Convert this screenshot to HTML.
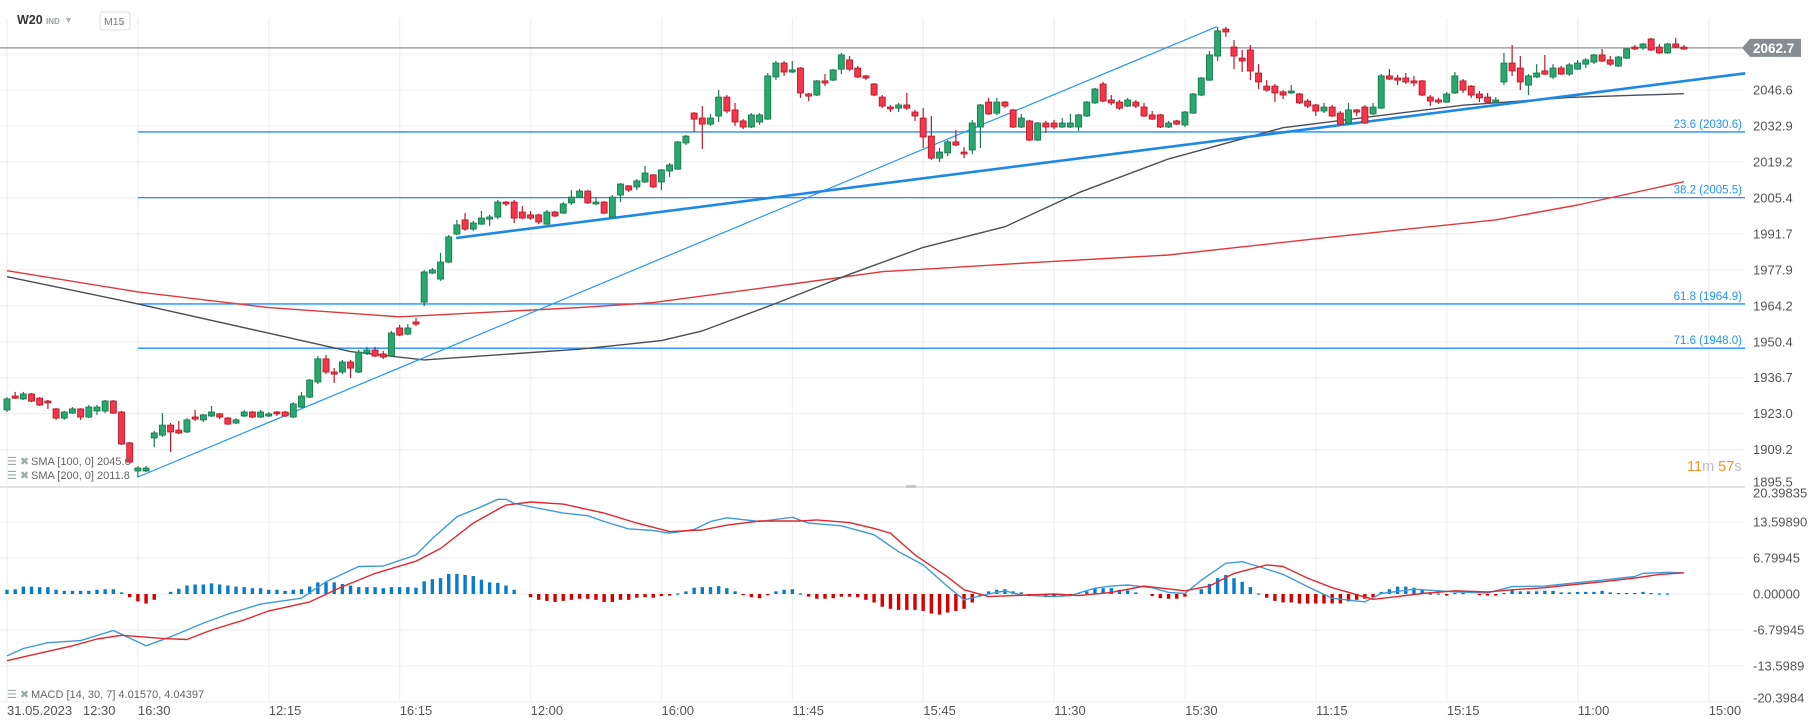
<!DOCTYPE html>
<html><head><meta charset="utf-8">
<style>
html,body{margin:0;padding:0;background:#fff;}
body{width:1813px;height:728px;overflow:hidden;font-family:"Liberation Sans",sans-serif;}
svg{display:block}
</style></head>
<body>
<svg id="chart" width="1813" height="728" viewBox="0 0 1813 728" xmlns="http://www.w3.org/2000/svg" font-family="Liberation Sans, sans-serif">
  <g id="grid"></g>
  <g id="header">
    <text x="17" y="24" font-size="12.5" font-weight="bold" fill="#333">W20</text>
    <text x="46" y="24" font-size="8" font-weight="bold" fill="#9aa0a6">IND</text>
    <text x="64" y="23" font-size="9" fill="#b0b4b8">▼</text>
    <rect x="100" y="12" width="30" height="18" rx="3" fill="#fff" stroke="#dcdfe2"/>
    <text x="104" y="25" font-size="10.5" fill="#777">M15</text>
    <text x="121" y="26" font-size="7" fill="#aaa">▾</text>
  </g>
  <g id="fibs"></g>
  <g id="smas"></g>
  <g id="trend"></g>
  <g id="candles"></g>
  <g id="macd"></g>
  <g id="axes"></g>
  <g id="legend">
    <text x="7" y="465" font-size="11" fill="#9aa">☰ ✖</text>
    <text x="31" y="465" font-size="11" fill="#666">SMA [100,  0] 2045.0</text>
    <text x="7" y="479" font-size="11" fill="#9aa">☰ ✖</text>
    <text x="31" y="479" font-size="11" fill="#666">SMA [200,  0] 2011.8</text>
    <text x="7" y="698" font-size="11" fill="#9aa">☰ ✖</text>
    <text x="31" y="698" font-size="11" fill="#666">MACD [14,  30,  7] 4.01570,  4.04397</text>
  </g>
  <g>
    <text x="1687" y="471" font-size="14.5"><tspan fill="#f7931e">11</tspan><tspan fill="#b8bcc0">m </tspan><tspan fill="#f7931e">57</tspan><tspan fill="#b8bcc0">s</tspan></text>
  </g>
  <rect x="906" y="485" width="10" height="3" fill="#c8c8c8"/>
</svg>
<script>
// ---- data ----
const opens = [1924.4,1929.7,1928.6,1930.5,1928.9,1927.8,1924.8,1921.3,1923.2,1924.8,
1921.7,1924.0,1924.0,1927.8,1923.6,1911.8,1901.1,1901.1,1913.7,1914.8,
1918.6,1916.7,1916.0,1921.7,1920.6,1922.1,1922.9,1921.3,1919.4,1922.1,
1923.6,1921.7,1922.1,1923.6,1923.6,1921.7,1925.5,1929.3,1935.1,1943.9,
1938.9,1938.9,1942.7,1938.9,1946.2,1947.3,1945.8,1945.0,1955.7,1953.4,
1958.0,1965.6,1976.7,1974.4,1980.9,1991.6,1997.0,1993.5,1995.4,1997.3,
1998.1,2003.8,2003.8,2000.0,1998.9,1998.9,1995.4,2000.0,1999.6,2003.5,
2005.7,2008.0,2003.1,2003.8,1998.1,2006.5,2010.0,2009.6,2011.5,2014.2,
2011.5,2015.7,2016.4,2026.4,2037.8,2035.9,2033.6,2036.7,2043.9,2039.0,
2034.8,2032.5,2034.4,2035.5,2051.6,2056.9,2053.5,2055.0,2045.1,2044.7,
2050.1,2050.4,2054.6,2058.1,2055.0,2052.0,2048.9,2043.9,2040.1,2039.7,
2040.9,2038.2,2035.9,2029.0,2020.6,2022.6,2026.8,2022.9,2023.7,2032.5,
2042.0,2037.8,2042.0,2039.0,2032.5,2034.8,2027.5,2034.0,2034.0,2032.5,
2032.5,2032.5,2036.7,2041.7,2048.9,2042.8,2042.0,2040.5,2042.0,2040.1,
2037.1,2037.1,2032.5,2034.8,2033.3,2037.8,2044.7,2050.4,2059.6,2069.9,
2063.0,2058.8,2061.9,2053.1,2048.1,2048.1,2045.9,2045.5,2045.1,2042.4,
2040.9,2038.6,2040.1,2037.8,2034.0,2039.0,2040.1,2037.5,2039.7,2052.0,
2051.2,2051.2,2050.1,2050.1,2043.9,2042.8,2042.0,2045.5,2050.1,2048.1,
2045.1,2043.9,2042.0,2049.7,2056.9,2055.0,2048.5,2051.6,2053.9,2051.6,
2055.0,2052.7,2054.6,2056.5,2057.3,2060.0,2058.1,2055.8,2058.8,2063.0,
2062.7,2066.1,2063.0,2060.8,2064.2,2063.0];
const highs = [1929.3,1931.3,1931.3,1930.9,1929.3,1928.2,1925.1,1924.0,1925.5,1925.1,
1926.3,1926.3,1928.2,1928.2,1924.0,1912.2,1903.0,1903.0,1916.4,1923.2,
1919.4,1920.2,1921.3,1924.4,1922.9,1925.9,1923.2,1921.7,1921.3,1924.4,
1924.0,1924.4,1923.6,1924.0,1924.0,1927.4,1931.3,1936.2,1945.0,1945.4,
1940.4,1943.5,1943.5,1947.3,1948.5,1948.5,1946.9,1954.6,1956.9,1957.2,
1959.5,1977.9,1978.6,1984.4,1991.2,1997.0,1999.6,1996.6,2000.4,1998.9,
2004.6,2004.2,2004.6,2002.3,2000.4,1999.3,2000.8,2000.4,2003.8,2008.4,
2008.8,2008.4,2005.7,2004.2,2006.5,2011.1,2010.3,2012.6,2017.6,2014.5,
2016.4,2018.7,2027.1,2029.4,2038.2,2040.5,2037.5,2046.6,2044.7,2041.7,
2035.5,2037.8,2037.8,2053.1,2057.7,2057.7,2057.7,2055.4,2045.5,2050.4,
2052.7,2054.6,2060.8,2059.6,2055.8,2052.4,2049.3,2044.7,2040.9,2041.7,
2045.5,2039.0,2039.7,2036.7,2024.5,2027.5,2031.3,2024.8,2035.2,2041.3,
2043.6,2043.6,2042.4,2039.4,2037.5,2035.2,2034.4,2034.8,2035.2,2035.9,
2037.5,2037.5,2042.4,2047.4,2049.7,2044.7,2042.8,2043.6,2042.8,2041.7,
2038.6,2037.5,2034.8,2035.2,2038.6,2045.5,2051.6,2061.5,2070.7,2070.7,
2065.7,2061.9,2063.8,2056.5,2050.4,2048.9,2046.6,2048.5,2045.5,2043.2,
2041.3,2041.7,2040.9,2038.6,2041.7,2039.4,2040.9,2041.7,2052.7,2054.6,
2052.4,2053.1,2052.0,2050.4,2044.7,2043.6,2045.9,2053.5,2050.8,2048.5,
2046.2,2045.5,2043.9,2060.8,2063.8,2059.6,2052.7,2056.5,2060.0,2056.5,
2055.8,2056.9,2058.1,2058.8,2060.4,2062.3,2059.6,2059.6,2062.7,2063.8,
2064.6,2066.5,2064.2,2064.6,2066.5,2063.8];
const lows = [1923.6,1928.6,1928.2,1927.4,1925.9,1924.8,1920.6,1920.6,1922.9,1920.6,
1921.3,1922.5,1923.2,1922.9,1911.0,1903.8,1898.8,1900.7,1910.2,1914.1,
1908.3,1915.2,1915.6,1920.2,1919.8,1921.7,1920.9,1918.7,1919.0,1921.7,
1921.3,1921.3,1921.7,1922.1,1921.7,1921.3,1925.1,1928.9,1934.3,1938.1,
1934.7,1938.1,1936.6,1938.5,1945.4,1944.6,1943.9,1944.6,1952.6,1953.0,
1956.5,1964.1,1976.3,1973.7,1980.5,1991.2,1992.8,1992.8,1995.1,1994.7,
1997.3,2002.3,1995.8,1997.3,1997.0,1995.4,1995.1,1998.1,1999.3,2002.7,
2005.4,2003.1,2002.7,1999.3,1997.7,2003.8,2007.7,2008.4,2011.1,2009.2,
2008.4,2013.4,2016.1,2025.6,2030.6,2024.1,2032.9,2034.4,2037.8,2032.9,
2031.7,2032.1,2033.3,2035.2,2050.4,2052.0,2053.1,2043.6,2042.4,2044.3,
2048.1,2050.1,2052.7,2053.9,2051.2,2050.4,2044.3,2039.7,2038.2,2038.2,
2039.0,2034.8,2024.5,2019.9,2019.1,2021.4,2025.2,2020.6,2022.2,2024.5,
2037.1,2037.1,2039.7,2032.1,2032.1,2027.1,2027.1,2030.2,2031.7,2032.1,
2032.1,2031.0,2036.3,2041.3,2042.0,2040.9,2039.0,2040.1,2039.7,2036.3,
2035.2,2032.1,2032.1,2033.3,2032.5,2037.5,2044.3,2050.1,2057.7,2066.9,
2054.6,2053.5,2050.4,2047.0,2045.9,2042.0,2043.2,2045.1,2041.3,2039.7,
2036.7,2037.8,2036.3,2033.3,2033.6,2036.7,2033.6,2037.1,2039.4,2050.4,
2048.5,2048.9,2048.1,2044.3,2040.5,2041.3,2041.7,2045.1,2045.5,2043.6,
2042.0,2041.7,2041.7,2048.5,2052.0,2046.6,2044.7,2051.2,2052.4,2050.8,
2052.4,2052.0,2054.3,2055.0,2056.5,2057.3,2055.8,2055.4,2058.5,2061.9,
2061.9,2061.5,2060.4,2060.4,2062.7,2061.9];
const closes = [1928.6,1928.9,1930.5,1927.8,1926.3,1927.1,1921.3,1923.6,1924.8,1921.7,
1925.5,1925.5,1927.8,1923.2,1911.4,1904.5,1902.2,1902.2,1915.6,1918.6,
1916.0,1915.6,1920.6,1920.9,1922.5,1923.6,1921.7,1919.0,1920.6,1923.6,
1921.7,1923.6,1922.9,1922.9,1922.1,1926.7,1929.7,1935.8,1943.9,1938.9,
1938.1,1942.7,1940.4,1946.5,1947.3,1945.0,1944.6,1953.8,1953.0,1955.7,
1957.2,1977.1,1977.9,1980.9,1990.5,1995.1,1993.5,1995.8,1997.7,1998.1,
2003.8,2003.1,1997.7,1997.7,1997.7,1996.2,2000.0,1998.5,2003.1,2005.7,
2008.0,2003.5,2003.8,1999.6,2005.7,2010.7,2008.4,2011.9,2014.9,2009.6,
2016.1,2018.0,2026.8,2029.0,2035.5,2033.6,2035.9,2043.9,2038.6,2034.4,
2032.5,2037.1,2037.1,2052.0,2056.9,2053.5,2054.3,2045.5,2044.3,2050.1,
2049.3,2054.3,2060.0,2054.6,2051.6,2051.2,2044.7,2040.5,2039.4,2040.9,
2039.7,2036.7,2028.7,2020.6,2022.9,2026.8,2025.6,2022.2,2034.0,2040.9,
2037.5,2042.0,2040.5,2032.5,2035.9,2027.5,2034.0,2032.5,2032.5,2034.0,
2034.0,2037.1,2042.0,2047.0,2042.4,2041.7,2039.7,2042.8,2040.5,2036.7,
2035.5,2032.5,2034.0,2033.6,2038.2,2045.1,2051.2,2060.0,2069.2,2068.8,
2059.6,2057.7,2053.9,2049.7,2046.6,2045.5,2044.7,2046.2,2041.7,2040.5,
2038.6,2040.1,2036.7,2033.6,2039.0,2038.2,2034.0,2040.1,2052.0,2050.8,
2050.4,2049.7,2049.3,2044.7,2042.4,2042.0,2045.1,2052.0,2046.6,2044.7,
2043.6,2042.0,2042.8,2056.9,2053.9,2049.7,2052.0,2053.1,2052.7,2055.0,
2052.7,2056.2,2056.9,2058.1,2060.0,2057.7,2056.5,2059.2,2062.3,2062.3,
2064.2,2061.9,2060.8,2064.2,2063.0,2062.3];
const sma100Idx = [0,16,32,42,51,70,80,85,94,103,112,122,131,142,156,178,191,205];
const sma100Val = [1975.3,1964.9,1953.7,1946.7,1943.5,1947.6,1950.9,1954.6,1965.1,1976.2,1986.5,1994.4,2007.4,2020.3,2032.2,2040.8,2043.8,2045.2];
const sma200Idx = [0,16,32,48,70,79,96,107,126,142,162,182,192,205];
const sma200Val = [1977.6,1969.5,1963.5,1960.0,1963.5,1965.4,1972.5,1977.2,1980.8,1983.6,1990.5,1997.0,2002.7,2011.6];
const macdIdx = [0,2,5,9,13,14,17,20,24,27,31,36,39,43,46,50,52,55,58,60,61,62,65,68,71,73,76,79,81,84,86,88,92,96,98,102,106,109,112,115,117,120,122,124,128,130,133,135,137,140,142,144,146,149,151,153,156,159,162,166,168,172,175,177,181,184,188,191,195,199,200,203,205];
const macdVal = [-11.7,-10.3,-9.2,-8.8,-6.9,-7.6,-9.8,-8.1,-5.5,-3.8,-1.9,-0.8,2.3,5.2,5.3,7.4,10.5,14.6,16.5,17.9,17.9,17.1,16.2,15.3,14.8,13.7,12.3,12.0,11.5,12.2,13.7,14.4,13.7,14.5,13.4,12.9,11.2,8.0,5.5,1.4,-1.1,0.0,0.6,-0.2,-0.5,-0.3,1.1,1.5,1.7,1.2,0.3,0.1,2.6,5.8,6.1,5.2,3.7,1.4,-0.8,-1.5,0.1,0.9,0.6,0.4,0.2,1.4,1.5,2.0,2.6,3.3,3.9,4.1,4.0];
const signalIdx = [0,4,8,11,14,19,22,25,29,32,37,41,45,50,53,57,60,61,64,68,73,77,81,85,88,92,97,99,103,106,108,111,115,117,120,128,131,135,139,144,147,150,154,156,159,162,167,170,173,177,181,184,188,191,195,199,202,205];
const signalVal = [-12.6,-11.2,-9.8,-8.5,-7.8,-8.4,-8.6,-6.8,-4.9,-3.2,-1.5,1.4,3.9,6.2,8.6,13.4,16.0,16.8,17.4,17.0,15.3,13.4,11.8,12.1,13.0,13.8,13.8,14.0,13.5,12.4,11.5,7.4,3.2,0.8,-0.5,0.0,-0.3,0.3,1.5,0.6,1.5,3.9,5.5,5.2,3.0,1.2,-1.0,-0.5,0.1,0.6,0.4,0.8,1.2,1.7,2.3,3.0,3.7,4.0];
const histVal = [0.8,0.9,1.4,1.4,1.3,1.3,0.8,0.6,0.6,0.6, 0.6,0.8,0.9,0.9,0.3,-0.6,-1.4,-1.8,-1.1,0,
 0.4,1.0,1.6,1.8,1.8,2.0,1.8,1.6,1.4,1.3, 1.1,1.1,0.8,0.8,0.6,0.8,0.9,1.4,2.2,2.2,
 2.2,1.9,1.6,1.3,1.3,1.3,1.1,1.3,1.3,1.3, 1.2,2.4,2.8,3.0,3.8,3.8,3.6,3.4,2.7,2.2,
 2.1,1.6,0.8,0,-0.6,-1.1,-1.3,-1.5,-1.3,-1.1, -0.9,-0.9,-1.1,-1.5,-1.5,-1.1,-1.1,-0.7,-0.6,-0.7,
 -0.4,-0.3,0.1,0.5,1.2,1.3,1.3,1.5,1.1,0.5, -0.1,-0.6,-0.8,-0.1,0.5,0.8,0.9,0.1,-0.5,-0.9,
 -0.9,-0.8,-0.5,-0.5,-0.6,-1.1,-1.6,-2.4,-2.8,-3.0, -3.0,-3.0,-3.2,-3.7,-3.9,-3.5,-3.2,-2.8,-1.6,-0.3,
 0.5,0.8,0.9,0.5,0.3,-0.4,-0.4,-0.6,-0.4,-0.4, -0.1,0.2,0.5,1.1,1.1,1.1,0.8,0.7,0.3,0,
 -0.4,-0.8,-0.9,-0.9,-0.5,0,0.9,1.9,3.0,3.6, 3.0,2.3,1.3,0.1,-0.7,-1.3,-1.6,-1.6,-1.8,-1.8,
 -1.8,-1.8,-1.8,-1.8,-1.4,-1.1,-0.9,-0.6,0.4,0.9, 1.4,1.4,1.2,0.8,0.1,0.1,-0.3,0.2,0.2,0,
 -0.1,-0.3,-0.3,0.2,0.8,0.5,0.5,0.5,0.6,0.6, 0.3,0.3,0.4,0.4,0.4,0.6,0.3,0.2,0.2,0.2,
 0.4,0.2,0.1,0.1,0,0];
const priceTicks = [2046.6,2032.9,2019.2,2005.4,1991.7,1977.9,1964.2,1950.4,1936.7,1923.0,1909.2,1895.5];
const macdTicks = [20.39835,13.5989,6.79945,0,-6.79945,-13.5989,-20.3984];
const macdTickLabels = ['20.39835','13.59890','6.79945','0.00000','-6.79945','-13.5989','-20.3984'];
const timeLabels = ['31.05.2023   12:30','16:30','12:15','16:15','12:00','16:00','11:45','15:45','11:30','15:30','11:15','15:15','11:00','15:00'];
const fibLevels = [2030.6,2005.5,1964.9,1948.0];
const fibNames = ['23.6 (2030.6)','38.2 (2005.5)','61.8 (1964.9)','71.6 (1948.0)'];
const lastPrice = 2062.7;
const thinTrendIdx = [16,147.9];
const thinTrendVal = [1898.8,2070.8];
const thickTrendIdx = [54.9,212.5];
const thickTrendVal = [1990.1,2053.0];

// ---- axis functions ----
const NS='http://www.w3.org/2000/svg';
const PLOT_R=1745;
function xOf(i){return 7+8.18*i;}
function yP(p){return (2081-p)/0.382;}
function yM(v){return 594-v*5.29;}
function mk(tag,attrs,parent){const e=document.createElementNS(NS,tag);for(const k in attrs)e.setAttribute(k,attrs[k]);parent.appendChild(e);return e;}

const grid=document.getElementById('grid');
// horizontal main grid
[2060.3].concat(priceTicks.slice(0,-1)).forEach(p=>{
  const l=mk('line',{x1:0,x2:PLOT_R,y1:yP(p),y2:yP(p),stroke:'#f0f0f0','stroke-width':1.2},grid);
  
  
});
macdTicks.slice(1).forEach(v=>{
  const l=mk('line',{x1:0,x2:PLOT_R,y1:yM(v),y2:yM(v),stroke:'#f0f0f0','stroke-width':1.2},grid);
  
  
});
timeLabels.forEach((t,k)=>{
  const x=7+130.9*k;
  const l=mk('line',{x1:x,x2:x,y1:18,y2:702,stroke:'#f0f0f0','stroke-width':1.2},grid);
  
  
});
// pane separator
const sep=mk('line',{x1:0,x2:PLOT_R,y1:487,y2:487,stroke:'#dcdcdc','stroke-width':1.5},grid);



// fib levels
const fibs=document.getElementById('fibs');
fibLevels.forEach((p,k)=>{
  const l=mk('line',{x1:xOf(16),x2:PLOT_R,y1:yP(p),y2:yP(p),stroke:'#1e8fff','stroke-width':1.3},fibs);
  
  
  const t=mk('text',{x:1742,y:yP(p)-4,'text-anchor':'end','font-size':11.5,fill:'#2196f3'},fibs);
  t.textContent=fibNames[k];
  
  
});

// current price line
const cp=mk('line',{x1:0,x2:PLOT_R,y1:yP(lastPrice),y2:yP(lastPrice),stroke:'#8a9297','stroke-width':1.3},fibs);



// SMAs
const smas=document.getElementById('smas');
function poly(idx,val,yf,color,w,parent){
  return mk('polyline',{points:idx.map((i,k)=>xOf(i).toFixed(1)+','+yf(val[k]).toFixed(1)).join(' '),fill:'none',stroke:color,'stroke-width':w,'stroke-linejoin':'round'},parent);
}
const s200=poly(sma200Idx,sma200Val,yP,'#e0383c',1.4,smas);


const s100=poly(sma100Idx,sma100Val,yP,'#4a4f55',1.4,smas);



// trend lines
const trend=document.getElementById('trend');
const t1=poly(thinTrendIdx,thinTrendVal,yP,'#2196f3',1.2,trend);


const t2=poly(thickTrendIdx,thickTrendVal,yP,'#1e88e5',2.6,trend);



// candles
const cg=document.getElementById('candles');
opens.forEach((o,i)=>{
  const c=closes[i],up=c>=o;
  const x=xOf(i);
  const fill=up?'#26a86f':'#f5364a', stroke=up?'#1b7a4f':'#b81a2b';
  const w=mk('line',{x1:x,x2:x,y1:yP(highs[i]),y2:yP(lows[i]),stroke:stroke,'stroke-width':1.2},cg);
  
  
  const top=yP(Math.max(o,c)),bot=yP(Math.min(o,c));
  const b=mk('rect',{x:x-3,y:top,width:6,height:Math.max(bot-top,1.2),fill:fill,stroke:stroke,'stroke-width':0.9},cg);
  
  
});

// MACD
const mg=document.getElementById('macd');
histVal.forEach((v,i)=>{
  if(v===0) return;
  const y0=yM(0),y1=yM(v);
  const r=mk('rect',{x:xOf(i)-1.7,y:Math.min(y0,y1),width:3.4,height:Math.max(Math.abs(y1-y0),1.2),fill:v>0?'#0a7cc7':'#d50000'},mg);
  
  
});
const ml=poly(macdIdx,macdVal,yM,'#3d9bdc',1.4,mg);


const sl=poly(signalIdx,signalVal,yM,'#e0282e',1.4,mg);



// axes
const ax=document.getElementById('axes');
priceTicks.forEach(p=>{
  const yc=Math.min(yP(p),482);
  const t=mk('text',{x:1753,y:yc+4.5,'font-size':13,fill:'#555'},ax);
  t.textContent=p.toFixed(1);
  
  
});
macdTicks.forEach((v,k)=>{
  const yc=Math.max(493,Math.min(yM(v),698));
  const t=mk('text',{x:1753,y:yc+4.5,'font-size':13,fill:'#555'},ax);
  t.textContent=macdTickLabels[k];
  
  
});
timeLabels.forEach((s,k)=>{
  const t=mk('text',{x:7+130.9*k,y:715,'font-size':13,fill:'#555','xml:space':'preserve'},ax);
  t.setAttribute('style','white-space:pre');
  t.textContent=s;
  
  
});
// last price tag
const yl=yP(lastPrice);
const tag=mk('path',{d:`M1742 ${yl} L1750 ${yl-9} L1801 ${yl-9} L1801 ${yl+9} L1750 ${yl+9} Z`,fill:'#868e93'},ax);


const tt=mk('text',{x:1753,y:yl+5,'font-size':13.5,fill:'#fff','font-weight':'bold'},ax);
tt.textContent=lastPrice.toFixed(1);


</script>
</body></html>
